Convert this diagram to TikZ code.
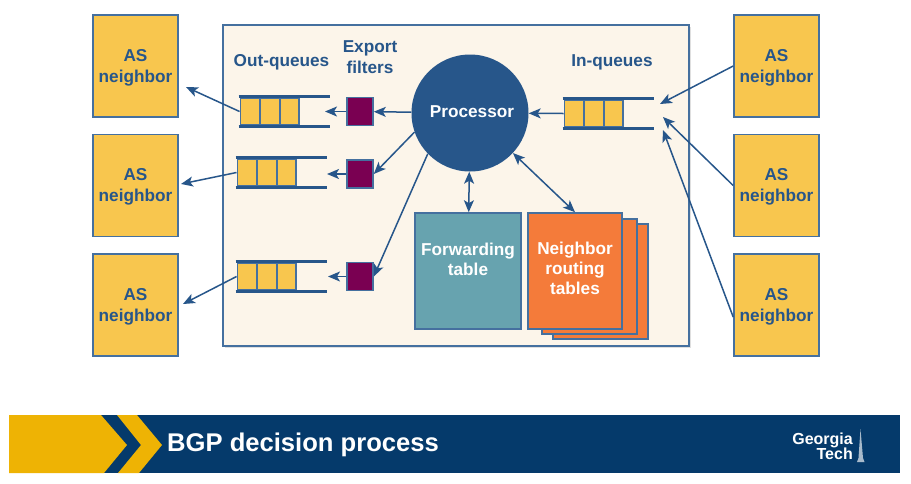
\documentclass[tikz,border=0pt]{standalone}
\usepackage{fontspec}
\usepackage{tikz}
\usepackage{xcolor}
\usetikzlibrary{arrows.meta, positioning, calc, shadows}
\setmainfont{Liberation Sans}
\definecolor{gtblue}{HTML}{27568A}
\definecolor{edgeblue}{HTML}{45709F}
\definecolor{gold}{HTML}{F8C64E}
\definecolor{cream}{HTML}{FCF5EA}
\definecolor{maroon}{HTML}{7A0052}
\definecolor{teal}{HTML}{67A3AF}
\definecolor{tableorange}{HTML}{F47B3A}
\definecolor{bandblue}{HTML}{053A6B}
\definecolor{bandgold}{HTML}{EEB304}

\begin{document}
\begin{tikzpicture}[x=1pt, y=-1pt,
            asbox/.style={draw=edgeblue, line width=1.6pt, fill=gold, minimum width=85pt, minimum height=102pt, inner sep=0pt, align=center, text=gtblue, font=\fontsize{17.2}{21}\selectfont\bfseries},
            cell/.style={draw=edgeblue, line width=1.8pt, fill=gold, minimum width=19.5pt, minimum height=27.5pt, inner sep=0pt},
            rail/.style={draw=gtblue, line width=2.8pt},
            filterbox/.style={draw=edgeblue, line width=1.6pt, fill=maroon, minimum width=26pt, minimum height=28pt, inner sep=0pt},
            head/.style={text=gtblue, align=center, font=\fontsize{17.2}{21}\selectfont\bfseries},
            white label/.style={text=white, align=center, font=\fontsize{17.2}{20}\selectfont\bfseries},
            page/.style={draw=edgeblue, line width=1.6pt, fill=tableorange, inner sep=0pt},
            link/.style={draw=gtblue, line width=1.5pt, -{Stealth[length=12pt, width=10pt, inset=3pt]}},
            twoway/.style={draw=gtblue, line width=1.5pt, {Stealth[length=12pt, width=10pt, inset=3pt]}-{Stealth[length=12pt, width=10pt, inset=3pt]}}]
            \useasboundingbox (0,0) rectangle (911,483);
            % Main box
            \node[draw=edgeblue, line width=1.6pt, fill=cream, minimum width=466pt, minimum height=321pt, inner sep=0pt, drop shadow={shadow xshift=1.5pt, shadow yshift=-1.5pt, opacity=0.25}] (router) at (456,185.5) {};
            % AS neighbors
            \foreach \n/\y in {1/66, 2/185.5, 3/305} {
                \node[asbox] (asl\n) at (135.5,\y) {\rule{0pt}{15pt}AS\\neighbor};
                \node[asbox] (asr\n) at (776.5,\y) {\rule{0pt}{15pt}AS\\neighbor};
            }
            % Queues
            \foreach \q/\x/\y in {o1/240/111.5, o2/237/172.5, o3/237/276.5, in/564/113.5} {
                \foreach \c in {1,2,3} {
                    \node[cell] (\q c\c) at (\x+\c*19.7-9.5,\y) {};
                }
                \draw[rail] ($(\q c1.north west)+(-1,0)$) -- ++(91,0);
                \draw[rail] ($(\q c1.south west)+(-1,0)$) -- ++(91,0);
            }
            % Filters
            \node[filterbox] (f1) at (360,111.5) {};
            \node[filterbox] (f2) at (360,174) {};
            \node[filterbox] (f3) at (360,276.5) {};
            % Processor and tables
            \node[circle, fill=gtblue, minimum size=117pt, inner sep=0pt] (proc) at (470,113) {};
            \node[white label] (proclabel) at (472,112) {Processor};
            \node[draw=edgeblue, line width=1.6pt, fill=teal, minimum width=106pt, minimum height=116pt, inner sep=0pt] (fwd) at (468,271) {};
            \node[white label] (fwdlabel) at (468,259.5) {Forwarding\\table};
            \node[page, minimum width=95pt, minimum height=115pt] (nb3) at (600.5,281.5) {};
            \node[page, minimum width=95pt, minimum height=115pt] (nb2) at (589.5,276.5) {};
            \node[page, minimum width=94pt, minimum height=116pt, drop shadow={shadow xshift=1pt, shadow yshift=-1pt, opacity=0.25}] (nb1) at (575,271) {};
            \node[white label] (nblabel) at (575,268.5) {Neighbor\\routing\\tables};
            % Headings
            \node[head] (outhead) at (281.5,62.5) {Out-queues};
            \node[head] (exphead) at (370,57.5) {Export\\filters};
            \node[head] (inhead) at (612,62.5) {In-queues};
            % Free ends
            \coordinate (tipl1) at (186,87);
            \coordinate (tipl2) at (181,184);
            \coordinate (tipl3) at (183,304);
            \coordinate (tipo1) at (325,111.5);
            \coordinate (tipo2) at (327,174);
            \coordinate (tipo3) at (328,276.5);
            \coordinate (tipr1) at (660,104);
            \coordinate (tipr2) at (663,117);
            \coordinate (tipr3) at (663,130);
            % Connectors
            \draw[link] (o1c1.west) -- (tipl1);
            \draw[link] (o2c1.west) -- (tipl2);
            \draw[link] (o3c1.west) -- (tipl3);
            \draw[link] (f1) -- (tipo1);
            \draw[link] (f2) -- (tipo2);
            \draw[link] (f3) -- (tipo3);
            \draw[link] (proc) -- (f1);
            \draw[link] (proc.199) -- (f2.east);
            \draw[link] (proc.224) -- (f3.east);
            \draw[link] (inc1.west) -- (proc);
            \draw[twoway] (proc) -- (fwd);
            \draw[twoway] (proc.-43) -- (nb1.north);
            \draw[link] (asr1.west |- 0,66) -- (tipr1);
            \draw[link] (asr2.west) -- (tipr2);
            \draw[link] (asr3.west |- 0,317) -- (tipr3);
            % Banner
            \fill[bandblue] (9,415) rectangle (900,473);
            \fill[bandgold] (9,415) -- (101,415) -- (127,445) -- (104,473) -- (9,473) -- cycle;
            \fill[bandgold] (117,415) -- (137,415) -- (162,445) -- (139,473) -- (118,473) -- (141,445) -- cycle;
            \node[text=white, anchor=west, inner sep=0pt, font=\fontsize{25.6}{30}\selectfont\bfseries] (title) at (167,445) {BGP decision process};
            \node[text=white, align=right, anchor=east, inner sep=0pt, font=\fontsize{16}{15}\selectfont\bfseries] (logo) at (853,446.5) {Georgia\\Tech};
            \fill[white!65!bandblue] (860.5,429) -- (863,458) -- (864.5,462) -- (857,462) -- (858.5,458) -- cycle;
\end{tikzpicture}
\end{document}
